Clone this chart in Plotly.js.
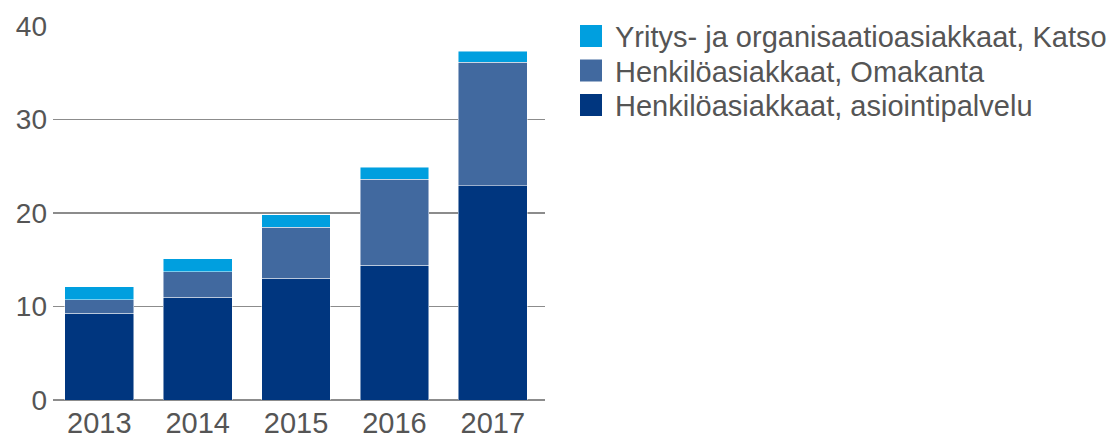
<!DOCTYPE html>
<html>
<head>
<meta charset="utf-8">
<script src="https://cdn.plot.ly/plotly-3.0.1.min.js"></script>
<style>html,body{margin:0;padding:0;background:#fff;}#chart{width:1112px;height:438px;}</style>
</head>
<body>
<div id="chart"></div>
<script>
const years = ["2013", "2014", "2015", "2016", "2017"];
const asiointipalvelu = [9.3, 11.0, 13.0, 14.4, 22.9];
const omakanta = [1.4, 2.7, 5.5, 9.2, 13.2];
const katso = [1.4, 1.4, 1.3, 1.3, 1.2];
const yTicks = [0, 10, 20, 30, 40];

const seriesNames = [
  "Henkilöasiakkaat, asiointipalvelu",
  "Henkilöasiakkaat, Omakanta",
  "Yritys- ja organisaatioasiakkaat, Katso"
];
const seriesColors = ["#00367f", "#41699f", "#009fdf"];
const seriesValues = [asiointipalvelu, omakanta, katso];

const W = 1112, H = 438;
const M = {l: 53, r: 567, t: 26, b: 38};
const PW = W - M.l - M.r, PH = H - M.t - M.b;
const px2x = p => (p - M.l) / PW;
const px2y = p => (H - M.b - p) / PH;

const fam = "Liberation Sans, Arial, sans-serif";
const txtColor = "#555555";

const traces = seriesValues.map((vals, i) => ({
  type: "bar",
  x: years,
  y: vals,
  name: seriesNames[i],
  marker: {color: seriesColors[i], line: {color: "rgba(255,255,255,0.6)", width: 0.8}},
  hoverinfo: "x+y+name",
  showlegend: false
}));

// custom legend (top item = last series), drawn as shapes + text annotations
const shapes = [];
const annotations = [];
const rowCenters = [36, 70.5, 105];
const legendOrder = [2, 1, 0];
legendOrder.forEach((si, row) => {
  const cy = rowCenters[row];
  shapes.push({
    type: "rect", xref: "paper", yref: "paper",
    x0: px2x(580), x1: px2x(602), y0: px2y(cy - 11), y1: px2y(cy + 11),
    fillcolor: seriesColors[si], line: {width: 0}
  });
  annotations.push({
    xref: "paper", yref: "paper",
    x: px2x(613), y: px2y(cy + 1), xanchor: "left", yanchor: "middle",
    text: seriesNames[si], showarrow: false,
    font: {family: fam, size: 29, color: txtColor}
  });
});

const layout = {
  width: W,
  height: H,
  margin: {l: M.l, r: M.r, t: M.t, b: M.b, pad: 0},
  paper_bgcolor: "#fff",
  plot_bgcolor: "#fff",
  barmode: "stack",
  bargap: 0.3,
  font: {family: fam, size: 24, color: txtColor},
  showlegend: false,
  shapes: shapes,
  annotations: annotations,
  xaxis: {
    type: "category",
    range: [-0.47, 4.53],
    showgrid: false,
    showline: false,
    zeroline: false,
    ticks: "",
    ticklabelstandoff: 3,
    tickfont: {family: fam, size: 29, color: txtColor},
    fixedrange: true
  },
  yaxis: {
    range: [0, 40],
    tickvals: yTicks,
    ticktext: yTicks.map(String),
    showgrid: true,
    gridcolor: "#8c8c8c",
    gridwidth: 1.5,
    zeroline: true,
    zerolinecolor: "#8c8c8c",
    zerolinewidth: 1.5,
    showline: false,
    ticks: "",
    ticklabelstandoff: 5,
    tickfont: {family: fam, size: 28, color: txtColor},
    fixedrange: true
  }
};

Plotly.newPlot("chart", traces, layout, {displayModeBar: false, staticPlot: true});
</script>
</body>
</html>
